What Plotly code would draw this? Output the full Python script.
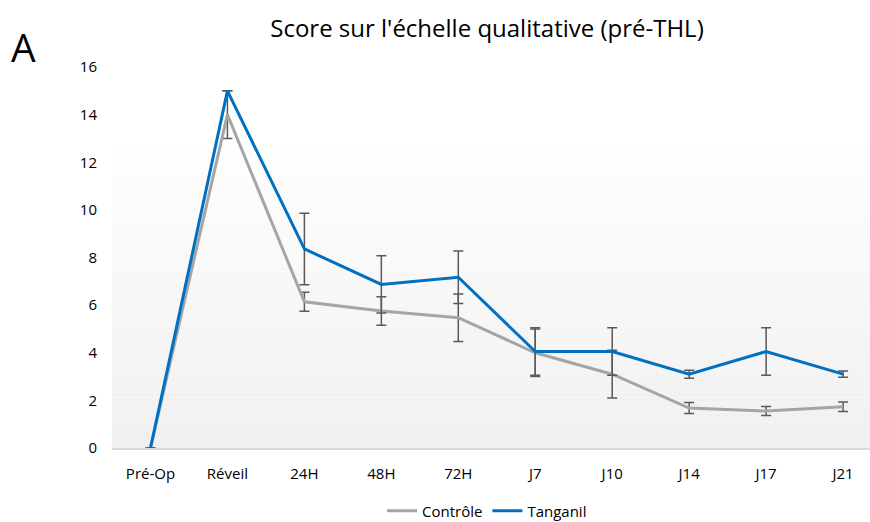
import numpy as np
import plotly.graph_objects as go

categories = ["Pré-Op", "Réveil", "24H", "48H", "72H", "J7", "J10", "J14", "J17", "J21"]
controle = [0, 14, 6.14, 5.75, 5.47, 4.0, 3.1, 1.68, 1.55, 1.73]
controle_err = [0, 1.0, 0.4, 0.6, 1.0, 1.0, 1.0, 0.23, 0.19, 0.2]
tanganil = [0, 15, 8.36, 6.87, 7.17, 4.05, 4.05, 3.1, 4.05, 3.1]
tanganil_err = [0, 0, 1.5, 1.2, 1.1, 1.0, 1.0, 0.17, 1.0, 0.13]
y_ticks = [0, 2, 4, 6, 8, 10, 12, 14, 16]

FONT = "Open Sans"
L, R, T, B = 112, 0, 67, 74
PW, PH = 870 - L - R, 522 - T - B

fig = go.Figure()
err_style = dict(type="data", thickness=1.5, width=5, color="#595959", visible=True)
fig.add_trace(go.Scatter(
    x=categories, y=controle, name="Contrôle", mode="lines",
    line=dict(color="#A5A5A5", width=3),
    error_y=dict(array=controle_err, **err_style), cliponaxis=False))
fig.add_trace(go.Scatter(
    x=categories, y=tanganil, name="Tanganil", mode="lines",
    line=dict(color="#0070C0", width=3),
    error_y=dict(array=tanganil_err, **err_style), cliponaxis=False))

# gradient background of plot area
shapes = []
n = 60
top = (448 - 145) / PH
for i in range(n):
    y0 = top * i / n
    y1 = top * (i + 1) / n
    t = i / (n - 1)
    v = int(round(240 + (254 - 240) * t))
    shapes.append(dict(type="rect", xref="paper", yref="paper", x0=0, x1=1, y0=y0, y1=y1,
                       fillcolor=f"rgb({v},{v},{v})", line=dict(width=0), layer="below"))

fig.update_layout(
    width=870, height=522,
    margin=dict(l=L, r=R, t=T, b=B),
    paper_bgcolor="white", plot_bgcolor="white",
    font=dict(family=FONT, color="#000000", size=15),
    title=dict(text="Score sur l'échelle qualitative (pré-THL)", x=487 / 870, xref="container",
               xanchor="center", y=1 - 29 / 522, yref="container", yanchor="middle",
               font=dict(size=24, family=FONT, color="#000000")),
    shapes=shapes,
    showlegend=True,
    legend=dict(orientation="h", x=487 / 870, xref="container", xanchor="center",
                y=1 - 511 / 522, yref="container", yanchor="middle",
                font=dict(size=15, family=FONT), itemwidth=30, tracegroupgap=0),
    xaxis=dict(type="category", range=[-0.5, 9.35], showgrid=False, zeroline=False,
               showline=True, linecolor="#D9D9D9", linewidth=1.5,
               ticks="", ticklabelstandoff=11, tickfont=dict(size=15, family=FONT)),
    yaxis=dict(range=[0, 16], tickvals=y_ticks, showgrid=False, zeroline=False,
               showline=False, ticks="", ticklabelstandoff=14,
               tickfont=dict(size=15, family=FONT)),
    annotations=[dict(text="A", x=(23 - L) / PW, y=(448 - 47) / PH, xref="paper", yref="paper",
                      showarrow=False, font=dict(size=39, family=FONT, color="#000000"),
                      xanchor="center", yanchor="middle")],
)
fig.write_html("out.html", config={"displayModeBar": False},
               post_script="document.body.style.margin='0';document.body.style.overflow='hidden';")
